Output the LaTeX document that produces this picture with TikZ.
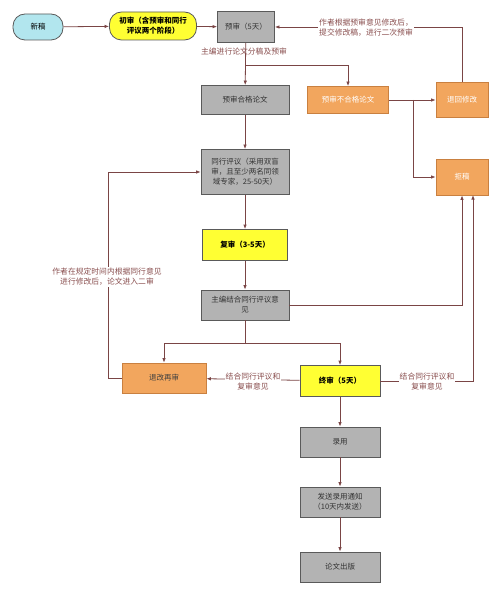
\documentclass[tikz,border=0pt]{standalone}
\usepackage{fontspec}
\setmainfont{Noto Sans CJK SC}
\usetikzlibrary{arrows.meta}
\definecolor{linec}{HTML}{7A4545}
\definecolor{labc}{HTML}{8A4F4F}
\definecolor{grayf}{HTML}{B3B3B3}
\definecolor{grayd}{HTML}{5A5A5A}
\definecolor{orangef}{HTML}{F2A65E}
\definecolor{oranged}{HTML}{C98040}
\definecolor{yellowf}{HTML}{FFFF33}
\definecolor{cyanf}{HTML}{B2E6EE}
\tikzset{
  base/.style={draw=grayd, line width=0.8pt, align=center, inner sep=1pt, font=\fontsize{7.5}{10}\selectfont},
  graybox/.style={base, fill=grayf, text=black!80},
  orangebox/.style={base, fill=orangef, draw=oranged, text=white},
  yellowbox/.style={base, fill=yellowf, font=\fontsize{7.5}{10}\selectfont\bfseries},
  conn/.style={draw=linec, line width=0.8pt, -{Latex[length=4.5pt,width=3.5pt]}},
  plain/.style={draw=linec, line width=0.8pt},
  lab/.style={text=labc, fill=white, align=center, inner sep=1pt, font=\fontsize{7.8}{10}\selectfont}
}
\begin{document}
\begin{tikzpicture}[x=1pt,y=-1pt]
\useasboundingbox (0,0) rectangle (500,596);
\fill[white] (0,0) rectangle (500,596);
% nodes
\node[base, fill=cyanf, rounded corners=12pt, minimum width=50pt, minimum height=26pt] (new) at (38,27) {新稿};
\node[yellowbox, rounded corners=12pt, minimum width=87pt, minimum height=28pt] (first) at (153,26) {初审（含预审和同行\\评议两个阶段）};
\node[graybox, minimum width=57pt, minimum height=31pt] (pre) at (246,27) {预审（5天）};
\node[graybox, minimum width=88pt, minimum height=29pt] (preok) at (245,100) {预审合格论文};
\node[orangebox, minimum width=81pt, minimum height=27pt] (prefail) at (348,100) {预审不合格论文};
\node[orangebox, minimum width=52pt, minimum height=35pt] (revise) at (462,100) {退回修改};
\node[orangebox, minimum width=52pt, minimum height=36pt] (reject) at (462,177) {拒稿};
\node[graybox, minimum width=88pt, minimum height=45pt] (peer) at (245,172) {同行评议（采用双盲\\审，且至少两名同领\\域专家，25-50天）};
\node[yellowbox, minimum width=85pt, minimum height=31pt] (second) at (245,245) {复审（3-5天）};
\node[graybox, minimum width=88pt, minimum height=30pt] (editor) at (245,305) {主编结合同行评议意\\见};
\node[orangebox, minimum width=84pt, minimum height=30pt, text=black!75] (back) at (164,378) {退改再审};
\node[yellowbox, minimum width=80pt, minimum height=31pt] (final) at (340,381) {终审（5天）};
\node[graybox, minimum width=80pt, minimum height=30pt] (accept) at (340,442) {录用};
\node[graybox, minimum width=80pt, minimum height=30pt] (notify) at (340,502) {发送录用通知\\（10天内发送）};
\node[graybox, minimum width=80pt, minimum height=30pt] (publish) at (340,567) {论文出版};
% coordinates
\coordinate (s1) at (245,65);
\coordinate (s1r) at (348,65);
\coordinate (s2) at (413,100);
\coordinate (s2d) at (413,177);
\coordinate (r1) at (462,27);
\coordinate (e1) at (462,305);
\coordinate (s3) at (245,343);
\coordinate (s3l) at (164,343);
\coordinate (s3r) at (340,343);
\coordinate (b1) at (108,378);
\coordinate (b2) at (108,172);
\coordinate (f1) at (473,381);
\coordinate (f2) at (473,195);
% connectors
\draw[conn] (new) -- (first);
\draw[conn] (first) -- (pre);
\draw[conn] (pre) -- (preok);
\draw[conn] (s1) -- (s1r) -- (prefail);
\node[lab, fill=none] (l1) at (244,52) {主编进行论文分稿及预审};
\draw[conn] (prefail) -- (revise);
\draw[conn] (s2) -- (s2d) -- (reject);
\draw[conn] (revise) -- (r1) -- (pre);
\node[lab] (l2) at (366,28) {作者根据预审意见修改后，\\提交修改稿，进行二次预审};
\draw[conn] (preok) -- (peer);
\draw[conn] (peer) -- (second);
\draw[conn] (second) -- (editor);
\draw[conn] (editor) -- (e1) -- (reject.south);
\draw[plain] (editor) -- (s3);
\draw[conn] (s3l) -- (s3r) -- (final);
\draw[conn] (s3l) -- (back);
\draw[conn] (back) -- (b1) -- (b2) -- (peer);
\node[lab] (l3) at (107,277) {作者在规定时间内根据同行意见\\进行修改后，论文进入二审};
\draw[conn] (final) -- (back);
\node[lab] (l4) at (253,382) {结合同行评议和\\复审意见};
\draw[conn] (final) -- (f1) -- (f2);
\node[lab] (l5) at (427,382) {结合同行评议和\\复审意见};
\draw[conn] (final) -- (accept);
\draw[conn] (accept) -- (notify);
\draw[conn] (notify) -- (publish);
\end{tikzpicture}
\end{document}
